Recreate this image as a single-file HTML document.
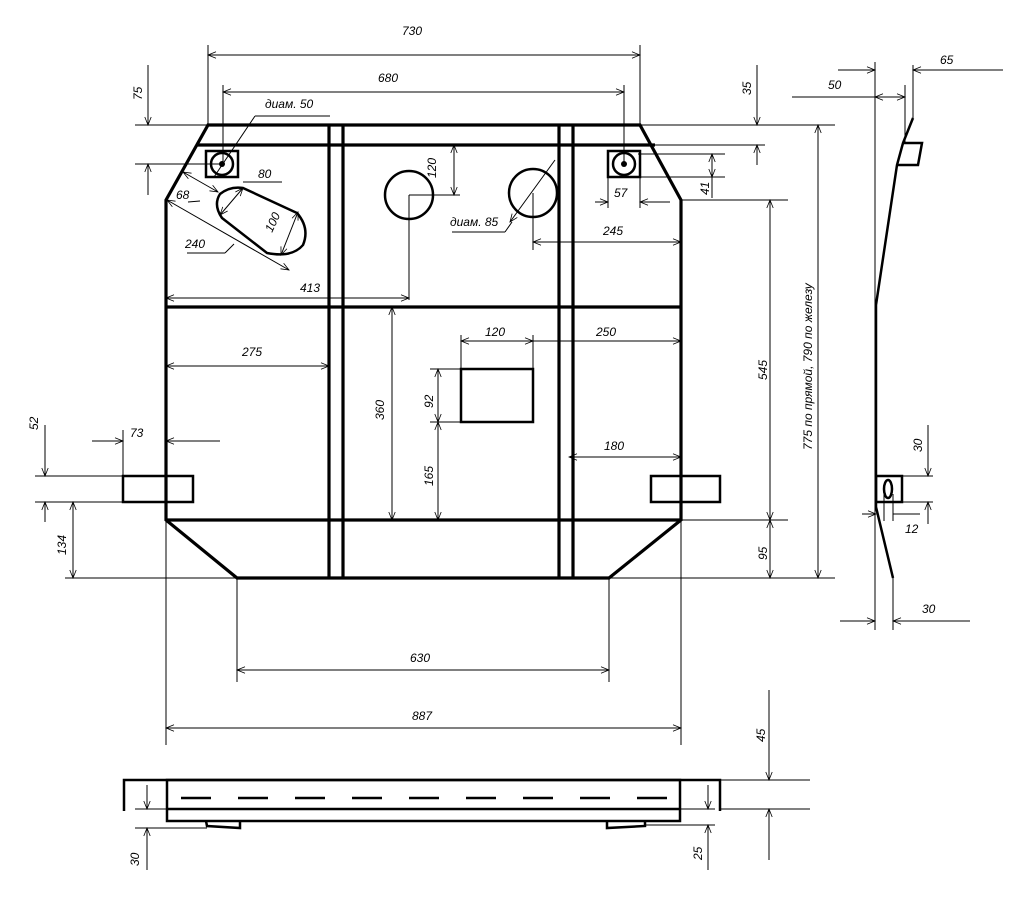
<!DOCTYPE html>
<html><head><meta charset="utf-8"><style>
html,body{margin:0;padding:0;background:#fff;width:1025px;height:898px;overflow:hidden}
svg{display:block}
text{font-family:"Liberation Sans",sans-serif;font-size:12px;font-style:italic;fill:#000}
.t{stroke:#000;stroke-width:3.2;fill:none}
.m{stroke:#000;stroke-width:2.5;fill:none}
.d{stroke:#000;stroke-width:1;fill:none}
</style></head><body>
<svg width="1025" height="898" viewBox="0 0 1025 898" xmlns="http://www.w3.org/2000/svg">
<defs>
<marker id="a" viewBox="0 0 10 10" refX="10" refY="5" markerWidth="10" markerHeight="8" orient="auto-start-reverse" markerUnits="userSpaceOnUse">
<path d="M0,1 L10,5 L0,9" fill="none" stroke="#000" stroke-width="1"/></marker>
</defs>

<path class="t" d="M208,125 L640,125 L681,200 L681,520 L609,578 L237,578 L166,520 L166,200 Z"/>
<line class="t" x1="197" y1="145" x2="655" y2="145"/>
<line class="t" x1="166" y1="307" x2="681" y2="307"/>
<line class="t" x1="166" y1="520" x2="681" y2="520"/>
<line class="t" x1="329" y1="125" x2="329" y2="578"/>
<line class="t" x1="343" y1="125" x2="343" y2="578"/>
<line class="t" x1="559" y1="125" x2="559" y2="578"/>
<line class="t" x1="573" y1="125" x2="573" y2="578"/>

<rect class="m" x="206" y="151" width="32" height="26"/>
<circle class="m" cx="222" cy="164" r="11"/><circle cx="222" cy="164" r="3"/>
<rect class="m" x="608" y="151" width="32" height="26"/>
<circle class="m" cx="624" cy="164" r="11"/><circle cx="624" cy="164" r="3"/>
<circle class="m" cx="409" cy="195" r="24"/>
<circle class="m" cx="533" cy="193" r="24"/>
<path class="m" d="M243,188 L297,213 Q310,228 303,245 Q292,258 267,253 L222,218 Q213,205 220,194 Q230,186 243,188 Z"/>
<rect class="m" x="461" y="369" width="72" height="53"/>
<rect class="m" x="123" y="476" width="70" height="26"/>
<rect class="m" x="651" y="476" width="69" height="26"/>

<line class="d" x1="208" y1="45" x2="208" y2="125"/>
<line class="d" x1="640" y1="45" x2="640" y2="125"/>
<line class="d" x1="208" y1="55" x2="640" y2="55" marker-start="url(#a)" marker-end="url(#a)"/>
<text x="402" y="35">730</text>
<line class="d" x1="223" y1="85" x2="223" y2="164"/>
<line class="d" x1="624" y1="85" x2="624" y2="164"/>
<line class="d" x1="223" y1="92" x2="624" y2="92" marker-start="url(#a)" marker-end="url(#a)"/>
<text x="378" y="82">680</text>
<text x="265" y="108">диам. 50</text>
<line class="d" x1="255" y1="116" x2="330" y2="116"/>
<line class="d" x1="255" y1="116" x2="214" y2="177"/>
<line class="d" x1="135" y1="125" x2="208" y2="125"/>
<line class="d" x1="135" y1="164" x2="222" y2="164"/>
<line class="d" x1="148" y1="65" x2="148" y2="125" marker-end="url(#a)"/>
<line class="d" x1="148" y1="195" x2="148" y2="164" marker-end="url(#a)"/>
<text transform="translate(142,100) rotate(-90)">75</text>
<line class="d" x1="183" y1="172" x2="218" y2="192" marker-start="url(#a)" marker-end="url(#a)"/>
<line class="d" x1="200" y1="201" x2="188" y2="202"/><text x="176" y="199">68</text>
<line class="d" x1="220" y1="215" x2="243" y2="188" marker-start="url(#a)" marker-end="url(#a)"/>
<line class="d" x1="243" y1="182" x2="282" y2="182"/><text x="258" y="178">80</text>
<line class="d" x1="167" y1="200" x2="289" y2="270" marker-start="url(#a)" marker-end="url(#a)"/>
<line class="d" x1="187" y1="253" x2="225" y2="253"/><line class="d" x1="225" y1="253" x2="234" y2="244"/>
<text x="185" y="248">240</text>
<line class="d" x1="281" y1="255" x2="298" y2="212" marker-start="url(#a)" marker-end="url(#a)"/>
<text transform="translate(272,233) rotate(-65)">100</text>
<line class="d" x1="409" y1="195" x2="460" y2="195"/>
<line class="d" x1="409" y1="195" x2="409" y2="300"/>
<line class="d" x1="454" y1="145" x2="454" y2="195" marker-start="url(#a)" marker-end="url(#a)"/>
<text transform="translate(436,178) rotate(-90)">120</text>
<line class="d" x1="166" y1="298" x2="409" y2="298" marker-start="url(#a)" marker-end="url(#a)"/>
<text x="300" y="292">413</text>
<line class="d" x1="510" y1="222" x2="555" y2="160" marker-start="url(#a)"/>
<line class="d" x1="452" y1="232" x2="505" y2="232"/><line class="d" x1="505" y1="232" x2="512" y2="222"/>
<text x="450" y="226">диам. 85</text>
<line class="d" x1="533" y1="193" x2="533" y2="250"/>
<line class="d" x1="533" y1="242" x2="681" y2="242" marker-start="url(#a)" marker-end="url(#a)"/>
<text x="603" y="235">245</text>
<line class="d" x1="608" y1="177" x2="608" y2="208"/><line class="d" x1="640" y1="177" x2="640" y2="208"/>
<line class="d" x1="595" y1="202" x2="608" y2="202" marker-end="url(#a)"/>
<line class="d" x1="670" y1="202" x2="640" y2="202" marker-end="url(#a)"/>
<text x="614" y="197">57</text>
<line class="d" x1="638" y1="154" x2="725" y2="154"/><line class="d" x1="638" y1="177" x2="725" y2="177"/>
<line class="d" x1="712" y1="154" x2="712" y2="177" marker-start="url(#a)" marker-end="url(#a)"/>
<line class="d" x1="712" y1="177" x2="712" y2="198"/>
<text transform="translate(709,195) rotate(-90)">41</text>
<line class="d" x1="640" y1="125" x2="835" y2="125"/>
<line class="d" x1="655" y1="145" x2="765" y2="145"/>
<line class="d" x1="757" y1="65" x2="757" y2="125" marker-end="url(#a)"/>
<line class="d" x1="757" y1="165" x2="757" y2="145" marker-end="url(#a)"/>
<text transform="translate(751,95) rotate(-90)">35</text>
<line class="d" x1="681" y1="200" x2="788" y2="200"/>
<line class="d" x1="681" y1="520" x2="788" y2="520"/>
<line class="d" x1="609" y1="578" x2="835" y2="578"/>
<line class="d" x1="770" y1="200" x2="770" y2="520" marker-start="url(#a)" marker-end="url(#a)"/>
<line class="d" x1="770" y1="520" x2="770" y2="578" marker-start="url(#a)" marker-end="url(#a)"/>
<text transform="translate(767,380) rotate(-90)">545</text>
<text transform="translate(767,560) rotate(-90)">95</text>
<line class="d" x1="818" y1="125" x2="818" y2="578" marker-start="url(#a)" marker-end="url(#a)"/>
<text transform="translate(812,450) rotate(-90)">775 по прямой, 790 по железу</text>
<line class="d" x1="166" y1="366" x2="329" y2="366" marker-start="url(#a)" marker-end="url(#a)"/>
<text x="242" y="356">275</text>
<line class="d" x1="392" y1="307" x2="392" y2="520" marker-start="url(#a)" marker-end="url(#a)"/>
<text transform="translate(384,420) rotate(-90)">360</text>
<line class="d" x1="461" y1="335" x2="461" y2="369"/><line class="d" x1="533" y1="335" x2="533" y2="369"/>
<line class="d" x1="461" y1="341" x2="533" y2="341" marker-start="url(#a)" marker-end="url(#a)"/>
<line class="d" x1="533" y1="341" x2="681" y2="341" marker-end="url(#a)"/>
<text x="485" y="336">120</text><text x="596" y="336">250</text>
<line class="d" x1="430" y1="369" x2="461" y2="369"/><line class="d" x1="430" y1="422" x2="461" y2="422"/>
<line class="d" x1="438" y1="369" x2="438" y2="422" marker-start="url(#a)" marker-end="url(#a)"/>
<line class="d" x1="438" y1="422" x2="438" y2="520" marker-start="url(#a)" marker-end="url(#a)"/>
<text transform="translate(433,408) rotate(-90)">92</text>
<text transform="translate(433,486) rotate(-90)">165</text>
<line class="d" x1="569" y1="457" x2="681" y2="457" marker-start="url(#a)" marker-end="url(#a)"/>
<text x="604" y="450">180</text>
<line class="d" x1="123" y1="430" x2="123" y2="476"/>
<line class="d" x1="92" y1="441" x2="123" y2="441" marker-end="url(#a)"/>
<line class="d" x1="220" y1="441" x2="166" y2="441" marker-end="url(#a)"/>
<text x="130" y="437">73</text>
<line class="d" x1="35" y1="476" x2="123" y2="476"/><line class="d" x1="35" y1="502" x2="123" y2="502"/>
<line class="d" x1="45" y1="425" x2="45" y2="476" marker-end="url(#a)"/>
<line class="d" x1="45" y1="522" x2="45" y2="502" marker-end="url(#a)"/>
<text transform="translate(38,430) rotate(-90)">52</text>
<line class="d" x1="65" y1="578" x2="237" y2="578"/>
<line class="d" x1="73" y1="502" x2="73" y2="578" marker-start="url(#a)" marker-end="url(#a)"/>
<text transform="translate(66,555) rotate(-90)">134</text>
<line class="d" x1="237" y1="578" x2="237" y2="682"/><line class="d" x1="609" y1="578" x2="609" y2="682"/>
<line class="d" x1="237" y1="670" x2="609" y2="670" marker-start="url(#a)" marker-end="url(#a)"/>
<text x="410" y="662">630</text>
<line class="d" x1="166" y1="520" x2="166" y2="745"/><line class="d" x1="681" y1="520" x2="681" y2="745"/>
<line class="d" x1="166" y1="728" x2="681" y2="728" marker-start="url(#a)" marker-end="url(#a)"/>
<text x="412" y="720">887</text>

<line class="d" x1="875" y1="62" x2="875" y2="630"/>
<path class="m" d="M913,118 L903,143 L897,165 L876,305 L876,507 L893,578"/>
<path class="m" d="M903,143 L922,143 L918,165 L897,165"/>
<rect class="m" x="876" y="476" width="26" height="26"/>
<ellipse class="m" cx="888" cy="489" rx="4" ry="9"/>
<line class="d" x1="913" y1="65" x2="913" y2="118"/>
<line class="d" x1="905" y1="85" x2="905" y2="143"/>
<line class="d" x1="838" y1="70" x2="875" y2="70" marker-end="url(#a)"/>
<line class="d" x1="1003" y1="70" x2="913" y2="70" marker-end="url(#a)"/>
<text x="940" y="64">65</text>
<line class="d" x1="792" y1="97" x2="905" y2="97"/>
<line class="d" x1="890" y1="97" x2="875" y2="97" marker-end="url(#a)"/>
<line class="d" x1="890" y1="97" x2="905" y2="97" marker-end="url(#a)"/>
<text x="828" y="89">50</text>
<line class="d" x1="902" y1="476" x2="933" y2="476"/><line class="d" x1="902" y1="502" x2="933" y2="502"/>
<line class="d" x1="928" y1="425" x2="928" y2="476" marker-end="url(#a)"/>
<line class="d" x1="928" y1="524" x2="928" y2="502" marker-end="url(#a)"/>
<text transform="translate(922,452) rotate(-90)">30</text>
<line class="d" x1="884" y1="494" x2="884" y2="521"/><line class="d" x1="893" y1="494" x2="893" y2="521"/>
<line class="d" x1="862" y1="514" x2="876" y2="514" marker-end="url(#a)"/>
<line class="d" x1="920" y1="514" x2="893" y2="514"/>
<text x="905" y="533">12</text>
<line class="d" x1="893" y1="578" x2="893" y2="630"/>
<line class="d" x1="840" y1="621" x2="875" y2="621" marker-end="url(#a)"/>
<line class="d" x1="970" y1="621" x2="893" y2="621" marker-end="url(#a)"/>
<text x="922" y="613">30</text>

<path class="m" d="M124,811 L124,780 L720,780 L720,811"/>
<rect class="m" x="167" y="780" width="513" height="41"/>
<line class="m" x1="167" y1="809" x2="680" y2="809"/>
<line x1="169" y1="798" x2="680" y2="798" stroke="#000" stroke-width="2.5" stroke-dasharray="30,27" stroke-dashoffset="-12"/>
<path class="m" d="M206,821 L207,826 L240,828 L240,821"/>
<path class="m" d="M607,821 L607,828 L645,826 L645,821"/>
<line class="d" x1="135" y1="809" x2="167" y2="809"/><line class="d" x1="135" y1="828" x2="207" y2="828"/>
<line class="d" x1="147" y1="785" x2="147" y2="809" marker-end="url(#a)"/>
<line class="d" x1="147" y1="870" x2="147" y2="828" marker-end="url(#a)"/>
<text transform="translate(139,866) rotate(-90)">30</text>
<line class="d" x1="680" y1="809" x2="715" y2="809"/><line class="d" x1="645" y1="825" x2="715" y2="825"/>
<line class="d" x1="708" y1="785" x2="708" y2="809" marker-end="url(#a)"/>
<line class="d" x1="708" y1="870" x2="708" y2="825" marker-end="url(#a)"/>
<text transform="translate(702,860) rotate(-90)">25</text>
<line class="d" x1="720" y1="780" x2="810" y2="780"/><line class="d" x1="720" y1="809" x2="810" y2="809"/>
<line class="d" x1="769" y1="690" x2="769" y2="780" marker-end="url(#a)"/>
<line class="d" x1="769" y1="860" x2="769" y2="809" marker-end="url(#a)"/>
<text transform="translate(765,742) rotate(-90)">45</text>
</svg>
</body></html>
